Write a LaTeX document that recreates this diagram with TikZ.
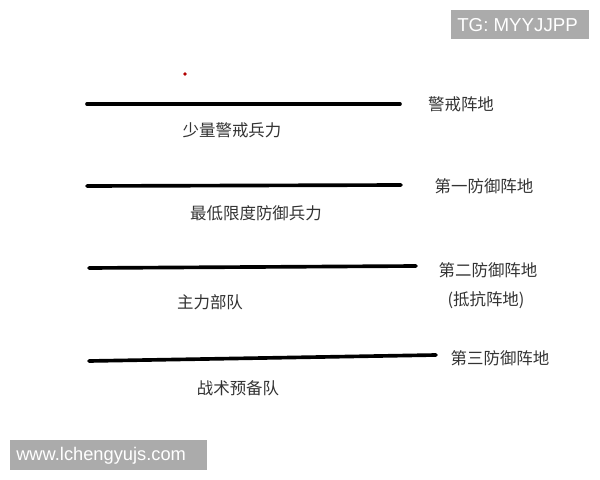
\documentclass[tikz,border=0pt]{standalone}
\usepackage{fontspec}
\setmainfont{Liberation Sans}
\newfontfamily\cjk{Noto Sans CJK SC}
\usetikzlibrary{calc}

\begin{document}
\begin{tikzpicture}[x=0.025cm,y=-0.025cm]
	\tikzset{lbl/.style={font=\cjk\fontsize{11.7}{13}\selectfont,text=black!80,inner sep=0pt},
		front/.style={line width=2.6pt,line cap=round},
		mark box/.style={fill=black!33,inner sep=0pt,anchor=north west},
		mark text/.style={text=white,font=\fontsize{13.3}{15}\selectfont,anchor=west,inner sep=0pt}}
	\useasboundingbox (0,0) rectangle (600,480);
	% watermarks
	\draw (451,10) node (tg) [mark box,minimum width=138*0.025cm,minimum height=29*0.025cm] {};
	\node [mark text] at ($(tg.west)+(6,0)$) {TG: MYYJJPP};
	\draw (10,440) node (web) [mark box,minimum width=197*0.025cm,minimum height=30*0.025cm] {};
	\node [mark text,font=\fontsize{13}{15}\selectfont] at ($(web.west)+(6,0)$) {www.lchengyujs.com};
	% red dot
	\fill[red!70!black] (185,74) circle (1.4pt);
	% line ends
	\coordinate (L1a) at (87,104); \coordinate (L1b) at (400,104);
	\coordinate (L2a) at (87,186); \coordinate (L2b) at (401,185);
	\coordinate (L3a) at (89,268); \coordinate (L3b) at (416,266);
	\coordinate (L4a) at (89,361); \coordinate (L4b) at (436,355);
	\draw[front] (L1a) -- (L1b);
	\draw[front] (L2a) -- (L2b);
	\draw[front] (L3a) -- (L3b);
	\draw[front] (L4a) -- (L4b);
	% positions
	\draw (461,104) node (P1) [lbl] {警戒阵地};
	\draw (484,186) node (P2) [lbl] {第一防御阵地};
	\draw (488,270) node (P3) [lbl] {第二防御阵地};
	\node (P3b) [lbl] at (486,300) {(抵抗阵地)};
	\draw (500,358) node (P4) [lbl] {第三防御阵地};
	% forces
	\draw (232,130) node (F1) [lbl] {少量警戒兵力};
	\draw (256,213) node (F2) [lbl] {最低限度防御兵力};
	\draw (210,302) node (F3) [lbl] {主力部队};
	\draw (238,388) node (F4) [lbl] {战术预备队};
\end{tikzpicture}
\end{document}
